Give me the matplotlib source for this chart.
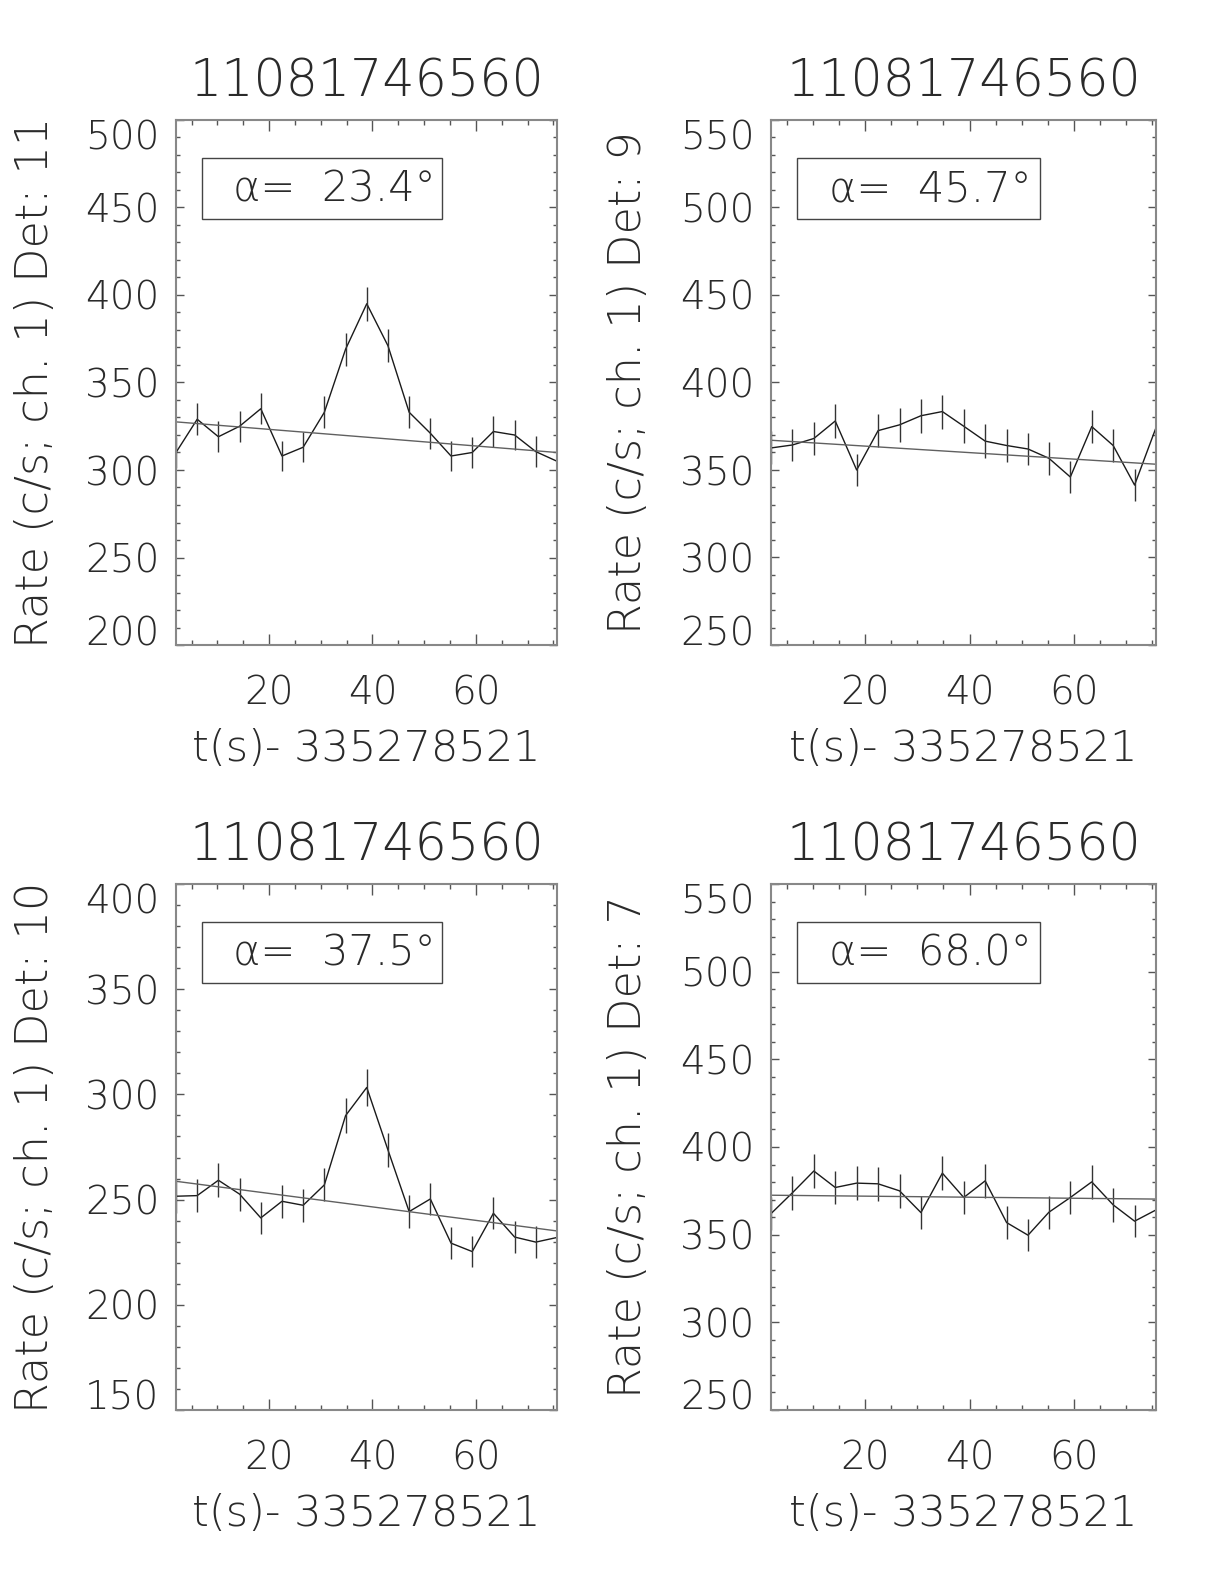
import matplotlib
matplotlib.use("Agg")
import matplotlib.pyplot as plt
from matplotlib.ticker import MultipleLocator, FixedLocator
from matplotlib.patches import Rectangle
from matplotlib import font_manager as fm

# ---------------- data ----------------
title = "11081746560"
xlabel = "t(s)- 335278521"
time = [2.0, 6.1, 10.2, 14.3, 18.4, 22.5, 26.6, 30.7, 34.8, 38.9,
        43.0, 47.1, 51.2, 55.2, 59.3, 63.4, 67.5, 71.6, 75.7]
xlim = [2.0, 75.7]
xticks = [20, 40, 60]

det_names = ["11", "9", "10", "7"]
alpha_vals = ["23.4", "45.7", "37.5", "68.0"]
ylims = [[200, 500], [250, 550], [150, 400], [250, 550]]

rate_det11 = [310, 329, 319, 325, 335, 308, 313, 333, 369, 395,
              371, 333, 321, 308, 310, 322, 320, 310.5, 305]
err_det11 = [8.7, 9.0, 8.8, 8.9, 9.0, 8.7, 8.7, 9.0, 9.5, 9.8,
             9.5, 9.0, 8.9, 8.7, 8.7, 8.9, 8.8, 8.7, 8.6]
fit_det11 = [327.5, 310.0]

rate_det9 = [362.6, 364.3, 368, 378, 350, 372.5, 375.8, 381, 383.4, 375,
             366.5, 364, 362, 356.7, 346, 374.8, 364, 341.4, 374.2]
err_det9 = [9.4, 9.4, 9.5, 9.6, 9.2, 9.5, 9.6, 9.6, 9.7, 9.6,
            9.5, 9.4, 9.4, 9.3, 9.2, 9.6, 9.4, 9.1, 9.6]
fit_det9 = [367.0, 353.3]

rate_det10 = [251.6, 251.9, 259.2, 252.6, 241.3, 249.2, 247.3, 257, 289.9, 303.3,
              273.6, 244.3, 250.3, 229.3, 225.3, 243.5, 232.2, 229.8, 232]
err_det10 = [7.8, 7.8, 8.0, 7.9, 7.7, 7.8, 7.8, 7.9, 8.4, 8.6,
             8.2, 7.7, 7.8, 7.5, 7.4, 7.7, 7.5, 7.5, 7.5]
fit_det10 = [258.7, 235.1]

rate_det7 = [362, 373.9, 386.3, 376.9, 379.4, 379, 375, 362.6, 385.1, 371.2,
             380.7, 356.9, 349.7, 362.8, 371.2, 380.1, 367, 357.7, 364.1]
err_det7 = [9.4, 9.6, 9.7, 9.6, 9.6, 9.6, 9.6, 9.4, 9.7, 9.5,
            9.6, 9.3, 9.2, 9.4, 9.5, 9.6, 9.5, 9.3, 9.4]
fit_det7 = [372.5, 370.3]

rates = [rate_det11, rate_det9, rate_det10, rate_det7]
errs = [err_det11, err_det9, err_det10, err_det7]
fits = [fit_det11, fit_det9, fit_det10, fit_det7]

# ---------------- fonts ----------------
def pick_font():
    prefs = ["DejaVu Sans", "Open Sans", "Lato", "Roboto", "Inter", "Noto Sans"]
    for fam in prefs:
        cands = []
        for f in fm.fontManager.ttflist:
            if f.name != fam or f.style != "normal":
                continue
            w = f.weight
            if isinstance(w, str):
                w = fm.weight_dict.get(w, 400)
            if 150 <= w <= 300:
                cands.append(w)
        if cands:
            return fam, max(cands)
    return "DejaVu Sans", 400

fam, wt = pick_font()
plt.rcParams["font.family"] = [fam, "DejaVu Sans"]
plt.rcParams["font.weight"] = wt
plt.rcParams["axes.titleweight"] = wt
plt.rcParams["axes.labelweight"] = wt

TXT = "#2a2a2a"
SPINE = "#888888"

fig = plt.figure(figsize=(12.24, 15.84), dpi=100)
W, H = 1224, 1584
rects = [
    [176 / W, 1 - 645 / H, 381 / W, 525 / H],
    [771 / W, 1 - 645 / H, 385 / W, 525 / H],
    [176 / W, 1 - 1410 / H, 381 / W, 526 / H],
    [771 / W, 1 - 1410 / H, 385 / W, 526 / H],
]

axes = []
for k in range(4):
    ax = fig.add_axes(rects[k])
    axes.append(ax)
    ax.plot(time, rates[k], color="#1a1a1a", lw=1.0)
    ax.errorbar(time, rates[k], yerr=errs[k], fmt="none",
                ecolor="#333333", elinewidth=1.0, capsize=0)
    ax.plot(xlim, fits[k], color="#606060", lw=1.0)

    ax.set_xlim(xlim)
    ax.set_ylim(ylims[k])
    ax.xaxis.set_major_locator(FixedLocator(xticks))
    ax.xaxis.set_minor_locator(MultipleLocator(5))
    ax.yaxis.set_major_locator(MultipleLocator(50))
    ax.yaxis.set_minor_locator(MultipleLocator(10))

    for s in ax.spines.values():
        s.set_color(SPINE)
        s.set_linewidth(1.5)

    ax.tick_params(which="both", direction="in", top=True, right=True,
                   color="#555555", width=1.0, labelcolor=TXT, labelsize=28)
    ax.xaxis.set_tick_params(which="major", length=8.0, pad=21)
    ax.xaxis.set_tick_params(which="minor", length=3.8)
    ax.yaxis.set_tick_params(which="major", length=5.5, pad=12)
    ax.yaxis.set_tick_params(which="minor", length=3.0)

    ax.set_title(title, fontsize=36.5, color=TXT, pad=17)

    ax.set_xlabel(xlabel, fontsize=31, color=TXT)
    ax.xaxis.set_label_coords(0.5, -0.197)
    ax.xaxis.label.set_va("center")

    ax.set_ylabel("Rate (c/s; ch. 1) Det: " + det_names[k], fontsize=32, color=TXT)
    ax.yaxis.set_label_coords(-0.37, 0.5)
    ax.yaxis.label.set_va("center")

    ax.add_patch(Rectangle((0.068, 0.811), 0.63, 0.117, transform=ax.transAxes,
                           fill=False, edgecolor="#444444", lw=1.0))
    ax.text(0.415, 0.868, "α=  " + alpha_vals[k] + "°", transform=ax.transAxes,
            ha="center", va="center", fontsize=30, color=TXT)

# end labels of the y axis sit inside the axis range, as in the original
fig.canvas.draw()
for k, ax in enumerate(axes):
    lo, hi = ylims[k]
    for t in ax.yaxis.get_major_ticks():
        loc = t.get_loc()
        if abs(loc - lo) < 1e-6:
            t.label1.set_va("baseline")
        elif abs(loc - hi) < 1e-6:
            t.label1.set_va("top")

fig.savefig("out.png", dpi=100, facecolor="white")
